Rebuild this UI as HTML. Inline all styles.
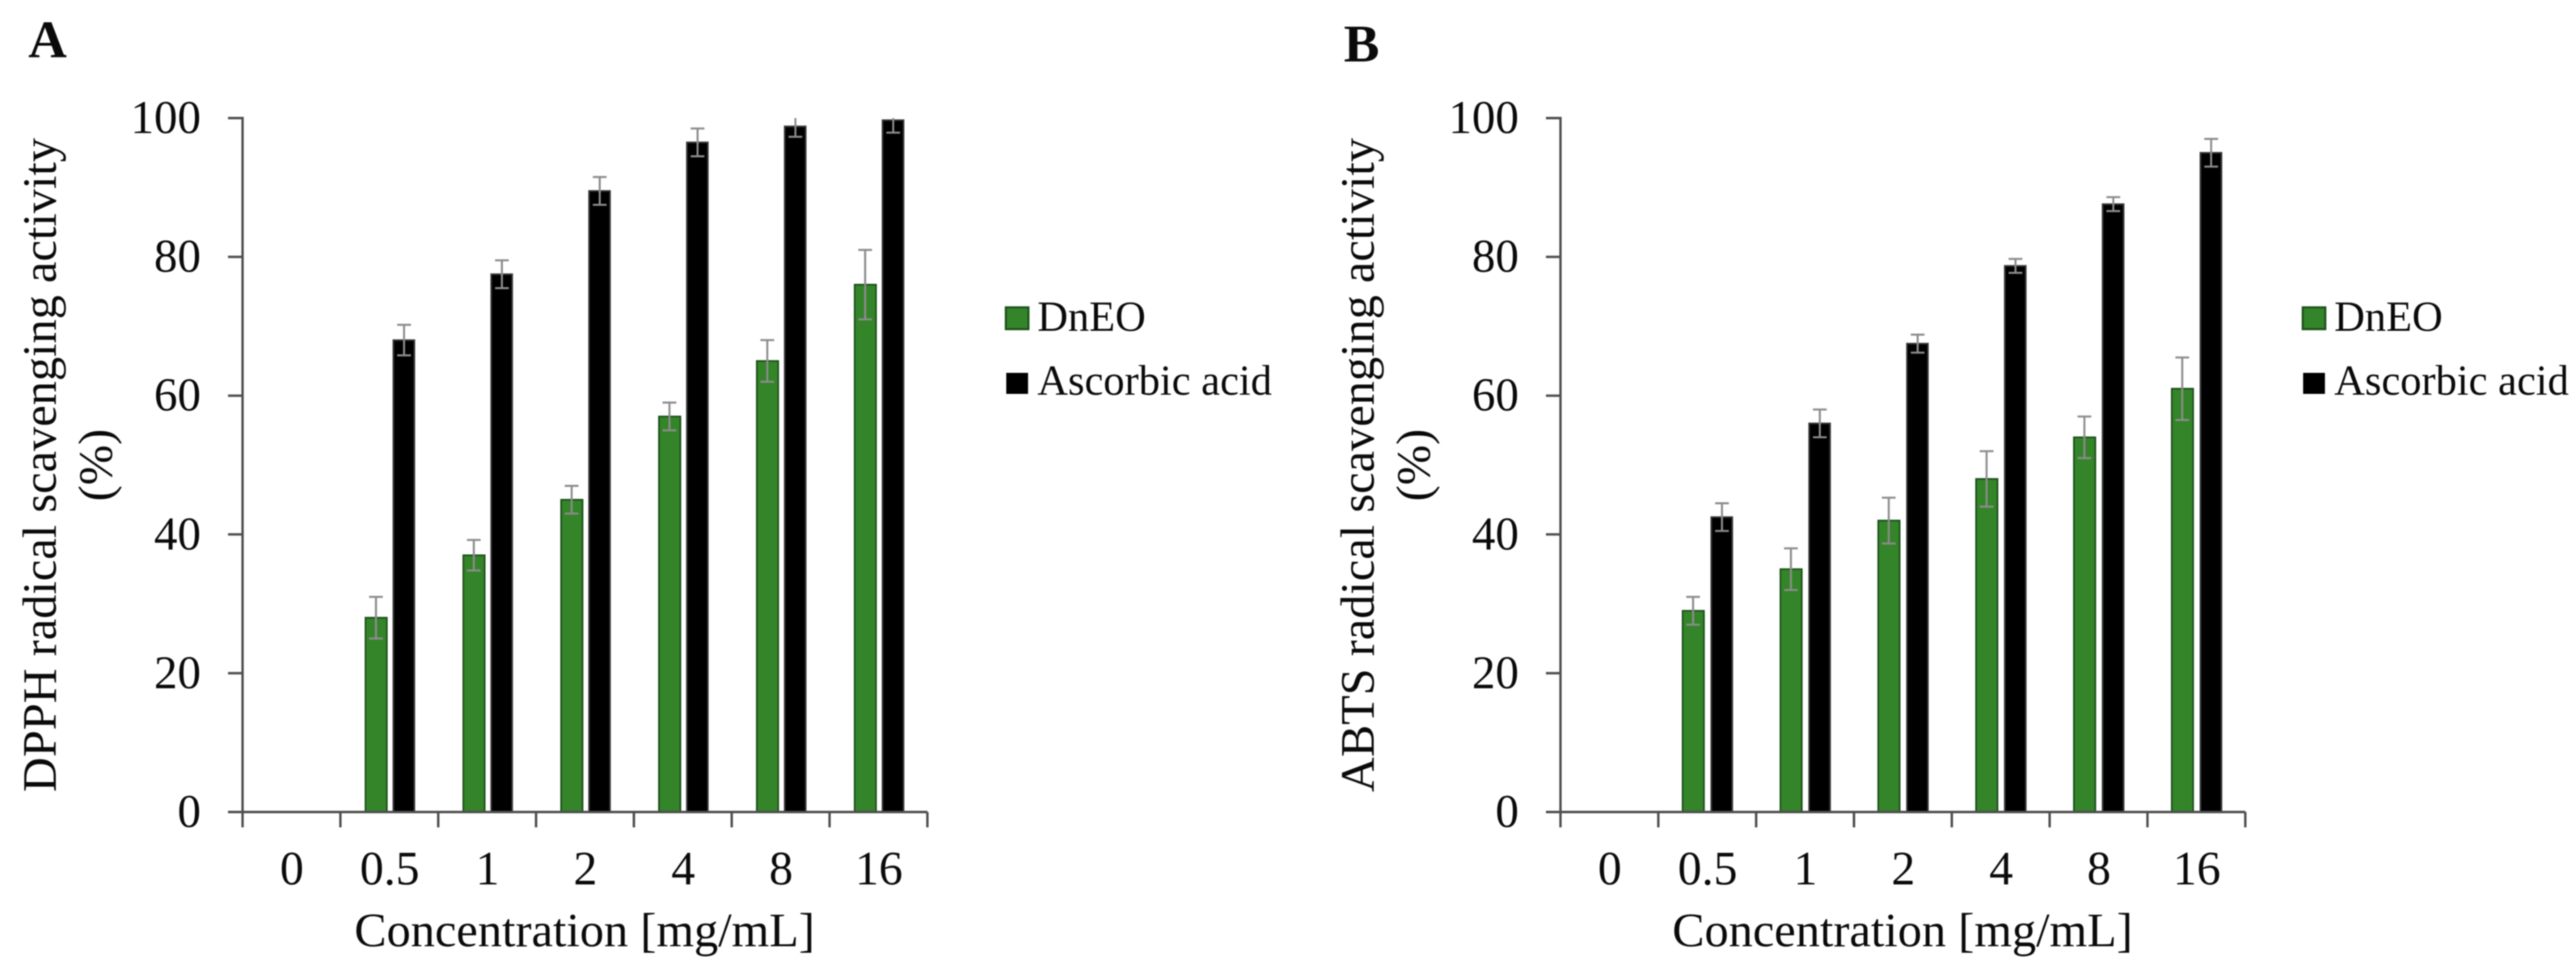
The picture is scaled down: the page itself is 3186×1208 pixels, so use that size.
<!DOCTYPE html>
<html lang="en">
<head>
<meta charset="utf-8">
<title>DPPH and ABTS radical scavenging activity</title>
<style>
  html, body { margin: 0; padding: 0; background: #fff; }
  body { width: 3186px; height: 1208px; overflow: hidden; }
  #figure { display: block; filter: blur(0.7px); }
  text { font-family: "Liberation Serif", "Times New Roman", serif; fill: #0a0a0a; }
</style>
</head>
<body>
<svg id="figure" xmlns="http://www.w3.org/2000/svg" width="3186" height="1208" viewBox="0 0 3186 1208"></svg>
<script>
const categories = ['0', '0.5', '1', '2', '4', '8', '16'];
const yTickValues = [0, 20, 40, 60, 80, 100];
const seriesNames = ['DnEO', 'Ascorbic acid'];

const dpphDnEO = [0, 28, 37, 45, 57, 65, 76];
const dpphDnEOErr = [0, 3, 2.2, 2, 2, 3, 5];
const dpphAscorbic = [0, 68, 77.5, 89.5, 96.5, 98.8, 99.7];
const dpphAscorbicErr = [0, 2.2, 2, 2, 2, 1.5, 1.8];

const abtsDnEO = [0, 29, 35, 42, 48, 54, 61];
const abtsDnEOErr = [0, 2, 3, 3.3, 4, 3, 4.5];
const abtsAscorbic = [0, 42.5, 56, 67.5, 78.7, 87.6, 95];
const abtsAscorbicErr = [0, 2, 2, 1.3, 1, 1, 2];

const svg = document.getElementById('figure');
const NS = 'http://www.w3.org/2000/svg';
const AXIS = '#4f4f4f';
const ERR = '#8c8c8c';
const GREEN = '#348429';
const GREEN_EDGE = '#1b4f1b';
const Y_TOP = 146;
const Y_BASE = 1004;
const Y_MAX = 100;
const CAT_W = 121;

function make(tag, attrs, name, text) {
  const el = document.createElementNS(NS, tag);
  Object.keys(attrs).forEach(function (k) { el.setAttribute(k, attrs[k]); });
  
  
  if (text !== undefined) el.textContent = text;
  svg.appendChild(el);
  return el;
}

function yScale(v) {
  return Y_BASE - (v / Y_MAX) * (Y_BASE - Y_TOP);
}

function line(x1, y1, x2, y2, color, width, name) {
  return make('line', { x1: x1, y1: y1, x2: x2, y2: y2, stroke: color, 'stroke-width': width }, name);
}

function drawErrorBar(cx, value, err, name) {
  if (value <= 0) return;
  const hi = value + err;
  const lo = value - err;
  line(cx, yScale(Math.min(hi, Y_MAX)), cx, yScale(lo), ERR, 2.5, name + '-stem');
  if (hi <= Y_MAX) line(cx - 8.5, yScale(hi), cx + 8.5, yScale(hi), ERR, 2.5, name + '-cap-upper');
  line(cx - 8.5, yScale(lo), cx + 8.5, yScale(lo), ERR, 2.5, name + '-cap-lower');
}

function drawBar(x, w, value, fill, edge, name) {
  if (value <= 0) return;
  make('rect', {
    x: x + 1, y: yScale(value), width: w - 2, height: Y_BASE - yScale(value),
    fill: fill, stroke: edge, 'stroke-width': 2
  }, name);
}

function drawPanel(p) {
  const catX = function (i) { return p.axisX + i * CAT_W; };

  /* panel letter */
  make('text', { x: p.letterX, y: p.letterY, 'font-size': 66, 'font-weight': 'bold' }, 'panel-label-' + p.letter.toLowerCase(), p.letter);

  /* bars */
  categories.forEach(function (c, i) {
    const key = p.key + '-' + c;
    drawBar(catX(i) + p.greenOffset, 28.5, p.green[i], GREEN, GREEN_EDGE, 'bar-dneo-' + key);
    drawBar(catX(i) + 64.5, 28, p.black[i], '#000', '#3a3a3a', 'bar-ascorbic-' + key);
    drawErrorBar(catX(i) + p.greenOffset + 14, p.green[i], p.greenErr[i], 'error-dneo-' + key);
    drawErrorBar(catX(i) + 65 + 13.75, p.black[i], p.blackErr[i], 'error-ascorbic-' + key);
  });

  /* y axis */
  line(p.axisX, Y_TOP - 1.5, p.axisX, Y_BASE, AXIS, 3, 'y-axis-line-' + p.key);
  yTickValues.forEach(function (v) {
    line(p.axisX - 18, yScale(v), p.axisX, yScale(v), AXIS, 3, 'y-tick-' + p.key + '-' + v);
    make('text', {
      x: p.axisX - 51.5, y: yScale(v) + 18.5, 'font-size': 58, 'text-anchor': 'end'
    }, 'y-tick-label-' + p.key + '-' + v, String(v));
  });

  /* x axis */
  line(p.axisX - 18, Y_BASE, catX(categories.length), Y_BASE, AXIS, 3, 'x-axis-line-' + p.key);
  for (let i = 0; i <= categories.length; i++) {
    line(catX(i), Y_BASE, catX(i), Y_BASE + 19, AXIS, 3, 'x-tick-' + p.key + '-' + i);
  }
  categories.forEach(function (c, i) {
    make('text', {
      x: catX(i) + CAT_W / 2 + 0.5, y: 1093.5, 'font-size': 59, 'text-anchor': 'middle'
    }, 'x-tick-label-' + p.key + '-' + c, c);
  });

  /* axis titles */
  make('text', {
    x: p.axisX + 423, y: 1170, 'font-size': 59.8, 'text-anchor': 'middle'
  }, 'x-axis-title-' + p.key, 'Concentration [mg/mL]');
  make('text', {
    transform: 'translate(' + (p.axisX - 231) + ',575) rotate(-90)', 'font-size': 59.8, 'text-anchor': 'middle'
  }, 'y-axis-title-' + p.key, p.yTitle);
  make('text', {
    transform: 'translate(' + (p.axisX - 162) + ',575) rotate(-90)', 'font-size': 59.8, 'text-anchor': 'middle'
  }, 'y-axis-unit-' + p.key, '(%)');

  /* legend */
  make('rect', { x: p.legendX + 1, y: 380, width: 28, height: 27, fill: GREEN, stroke: GREEN_EDGE, 'stroke-width': 2.5 }, 'legend-swatch-dneo-' + p.key);
  make('text', { x: p.legendX + 40, y: 409, 'font-size': 52.5 }, 'legend-label-dneo-' + p.key, seriesNames[0]);
  make('rect', { x: p.legendX + 1.5, y: 461, width: 27, height: 26, fill: '#000' }, 'legend-swatch-ascorbic-' + p.key);
  make('text', { x: p.legendX + 40, y: 488, 'font-size': 52.5 }, 'legend-label-ascorbic-' + p.key, seriesNames[1]);
}

drawPanel({
  key: 'dpph', letter: 'A', letterX: 35, letterY: 71,
  axisX: 300, greenOffset: 30, legendX: 1243,
  yTitle: 'DPPH radical scavenging activity',
  green: dpphDnEO, greenErr: dpphDnEOErr,
  black: dpphAscorbic, blackErr: dpphAscorbicErr
});

drawPanel({
  key: 'abts', letter: 'B', letterX: 1662, letterY: 76,
  axisX: 1930, greenOffset: 29, legendX: 2847,
  yTitle: 'ABTS radical scavenging activity',
  green: abtsDnEO, greenErr: abtsDnEOErr,
  black: abtsAscorbic, blackErr: abtsAscorbicErr
});
</script>
</body>
</html>
